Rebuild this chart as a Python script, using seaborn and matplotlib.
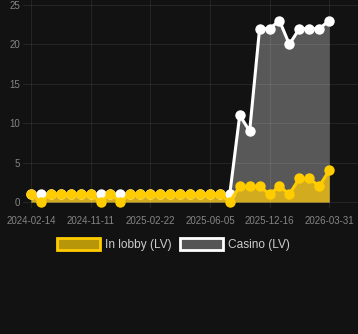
import matplotlib
matplotlib.use("Agg")
import matplotlib.pyplot as plt
import seaborn as sns
import pandas as pd
import numpy as np
from matplotlib.patches import Patch

# ---- data ----
lobby = [1, 0, 1, 1, 1, 1, 1, 0, 1, 0, 1, 1, 1, 1, 1, 1, 1, 1, 1, 1, 0,
         2, 2, 2, 1, 2, 1, 3, 3, 2, 4]
casino = [1, 1, 1, 1, 1, 1, 1, 1, 1, 1, 1, 1, 1, 1, 1, 1, 1, 1, 1, 1, 1,
          11, 9, 22, 22, 23, 20, 22, 22, 22, 23]
tick_labels = ["2024-02-14", "2024-11-11", "2025-02-22", "2025-06-05",
               "2025-12-16", "2026-03-31"]
tick_every = 6
series_names = ["In lobby (LV)", "Casino (LV)"]

BG = "#121212"
YELLOW = "#ffcc00"
YFILL = "#d2ac1e"
TXT = "#858585"

sns.set_theme(style="dark")
plt.rcParams["font.family"] = ["Liberation Sans", "DejaVu Sans"]

idx = list(range(len(lobby)))
df = pd.DataFrame({"i": idx, "lobby": lobby, "casino": casino})

fig = plt.figure(figsize=(3.58, 3.34), dpi=100, facecolor=BG)
ax = fig.add_axes([23 / 358, 126 / 334, 1 - 23 / 358, 208 / 334])
ax.set_facecolor(BG)

# casino (white) first
ax.fill_between(df["i"], 0, df["casino"], color="#585858", lw=0, zorder=2)
# lobby fill
ax.fill_between(df["i"], 0, df["lobby"], color=YFILL, lw=0, zorder=2.5)

# grid over fills, under lines
for y in [0, 5, 10, 15, 20, 25]:
    ax.axhline(y, color="white", alpha=0.08, lw=0.8, zorder=3)
for x in idx[::tick_every]:
    ax.axvline(x, color="white", alpha=0.08, lw=0.8, zorder=3)

sns.lineplot(data=df, x="i", y="casino", ax=ax, color="white", lw=2.2,
             marker="o", markersize=7.5, markeredgewidth=0, zorder=4)
sns.lineplot(data=df, x="i", y="lobby", ax=ax, color=YELLOW, lw=2.2,
             marker="o", markersize=7.5, markeredgewidth=0, zorder=5)

ax.set_xlim(-0.8, 32.9)
ax.set_ylim(-0.76, 25.63)
ax.set_yticks([0, 5, 10, 15, 20, 25])
ax.set_xticks(idx[::tick_every])
ax.set_xticklabels(tick_labels)
ax.set_xlabel("")
ax.set_ylabel("")
ax.grid(False)
for s in ax.spines.values():
    s.set_visible(False)
ax.tick_params(axis="x", colors=TXT, labelsize=7, length=4, width=0.8,
               pad=2, color="#2a2a2a")
ax.tick_params(axis="y", colors=TXT, labelsize=7, length=0, pad=2)
for lab in ax.get_xticklabels() + ax.get_yticklabels():
    lab.set_color(TXT)

handles = [
    Patch(facecolor="#b8960a", edgecolor=YELLOW, linewidth=2, label=series_names[0]),
    Patch(facecolor="#555555", edgecolor="white", linewidth=2, label=series_names[1]),
]
leg = fig.legend(handles=handles, loc="center", bbox_to_anchor=(0.485, 0.269),
                 ncol=2, frameon=False, fontsize=8.6, handlelength=3.6,
                 handleheight=1.2, handletextpad=0.4, columnspacing=0.7)
for t in leg.get_texts():
    t.set_color("#cccccc")

fig.savefig("out.png", dpi=100, facecolor=BG)
